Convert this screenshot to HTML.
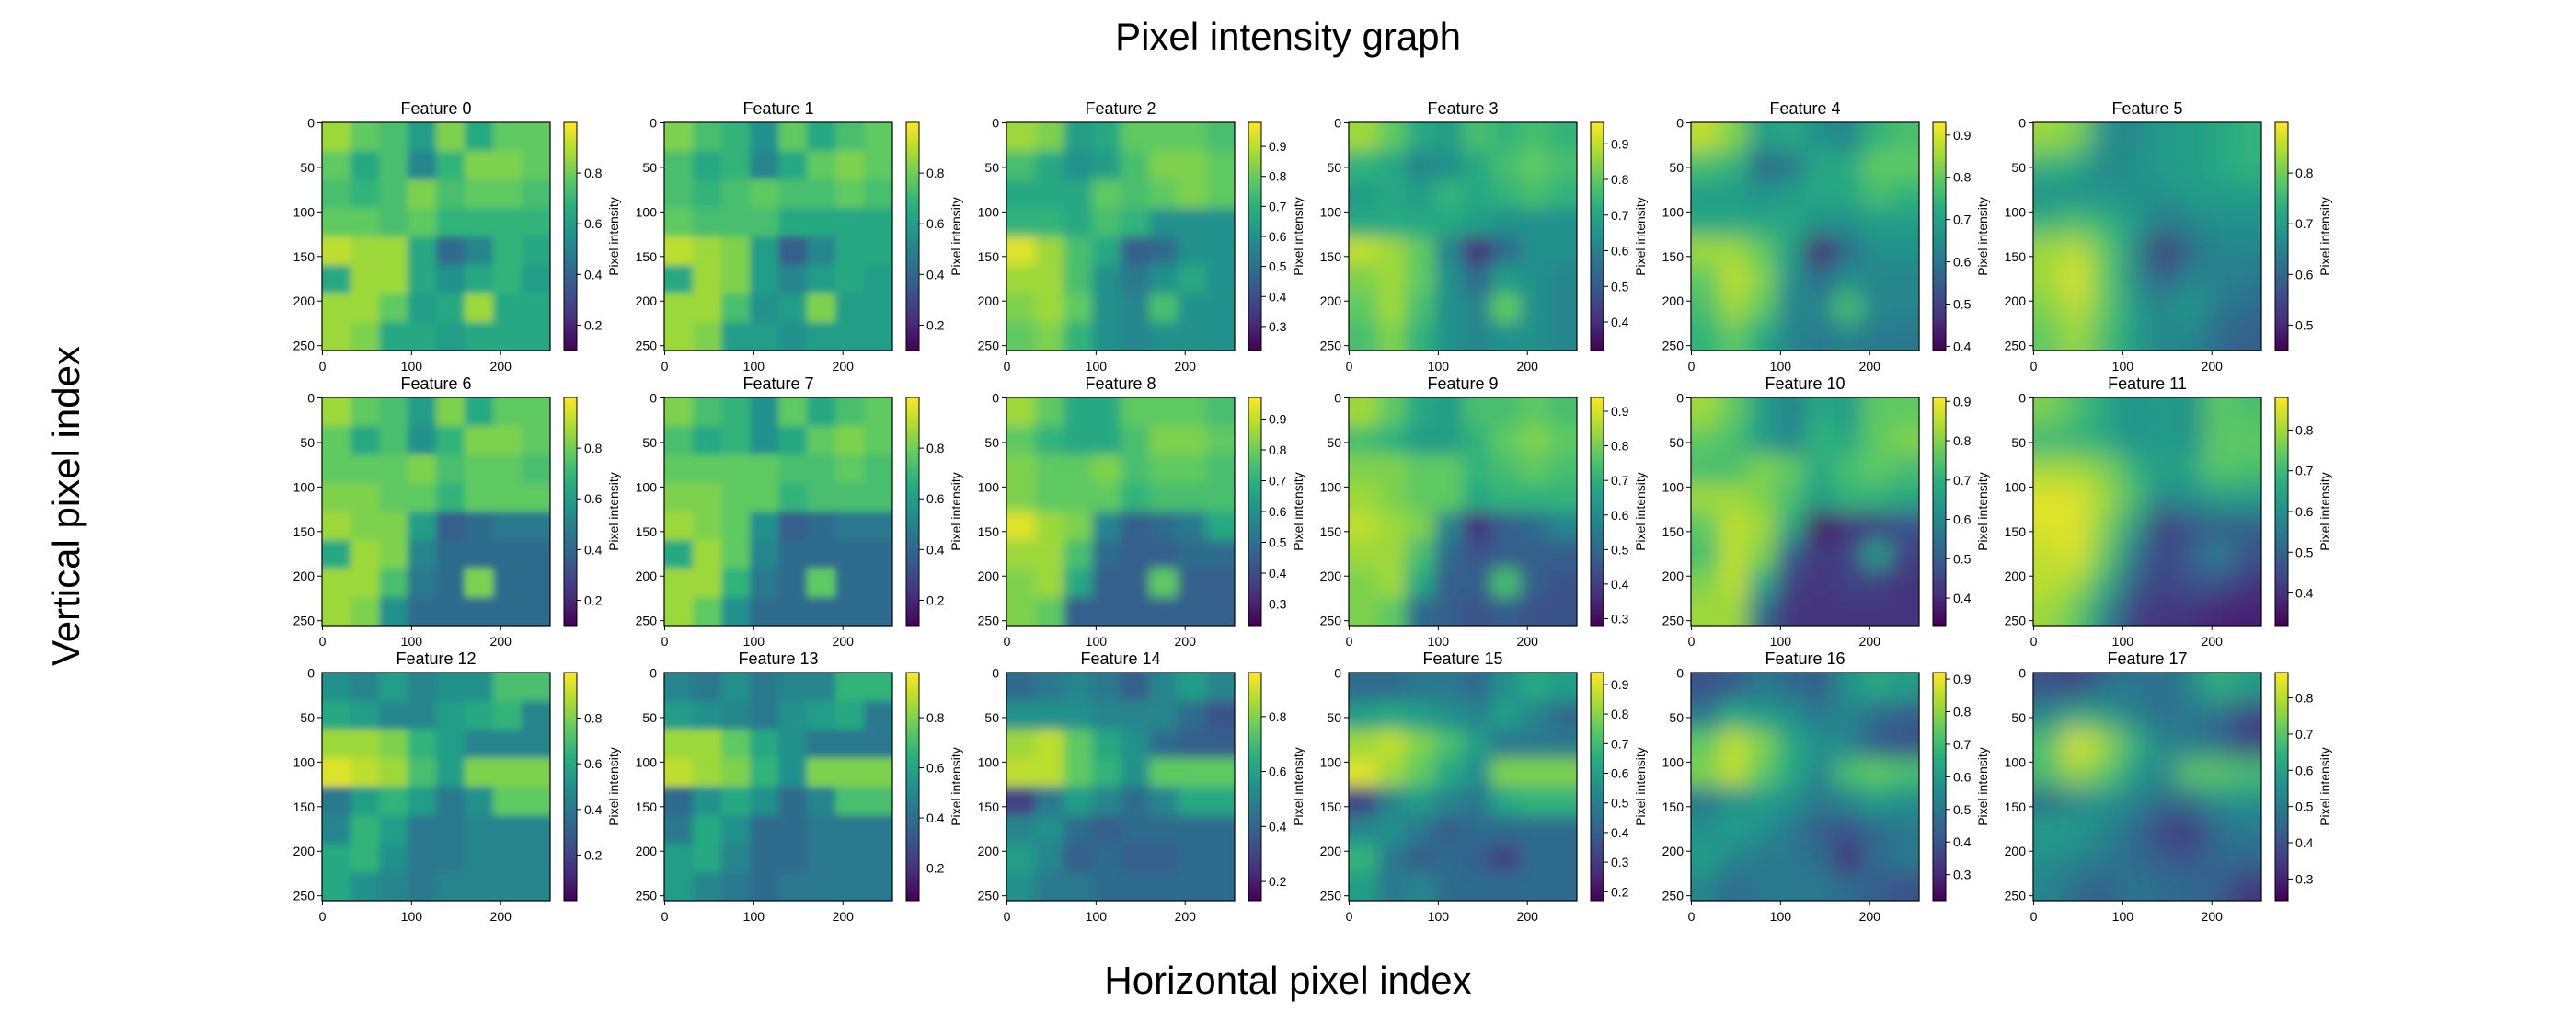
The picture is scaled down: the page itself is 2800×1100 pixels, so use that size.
<!DOCTYPE html>
<html><head><meta charset="utf-8"><style>
html,body{margin:0;padding:0;background:#fff;}
svg{display:block;font-family:"Liberation Sans","DejaVu Sans",sans-serif;}
</style></head><body>
<svg id="fig" width="2800" height="1100" viewBox="0 0 2800 1100" xmlns="http://www.w3.org/2000/svg">
<defs>
<linearGradient id="viridisGrad" x1="0" y1="1" x2="0" y2="0">
<stop offset="0" stop-color="#440154"/><stop offset="0.125" stop-color="#472d7b"/><stop offset="0.25" stop-color="#3b528b"/><stop offset="0.375" stop-color="#2c728e"/><stop offset="0.5" stop-color="#21918c"/><stop offset="0.625" stop-color="#28ae80"/><stop offset="0.75" stop-color="#5ec962"/><stop offset="0.875" stop-color="#addc30"/><stop offset="1" stop-color="#fde725"/>
</linearGradient>
</defs>
<text x="1400" y="54" text-anchor="middle" font-size="42">Pixel intensity graph</text>
<text x="1400" y="1080" text-anchor="middle" font-size="42">Horizontal pixel index</text>
<text x="0" y="0" transform="translate(86,550) rotate(-90)" text-anchor="middle" font-size="42">Vertical pixel index</text>
<g id="panels"></g>
</svg>
<script>
const featureNames = ["Feature 0","Feature 1","Feature 2","Feature 3","Feature 4","Feature 5","Feature 6","Feature 7","Feature 8","Feature 9","Feature 10","Feature 11","Feature 12","Feature 13","Feature 14","Feature 15","Feature 16","Feature 17"];
const colorbarMin = [0.10,0.10,0.22,0.32,0.39,0.45,0.10,0.10,0.23,0.28,0.33,0.32,0.00,0.07,0.13,0.17,0.22,0.24];
const colorbarMax = [1.00,1.00,0.98,0.96,0.93,0.90,1.00,1.00,0.97,0.94,0.91,0.88,1.00,0.98,0.96,0.94,0.92,0.87];
const colorbarTicks = [
[0.2,0.4,0.6,0.8],[0.2,0.4,0.6,0.8],[0.3,0.4,0.5,0.6,0.7,0.8,0.9],[0.4,0.5,0.6,0.7,0.8,0.9],[0.4,0.5,0.6,0.7,0.8,0.9],[0.5,0.6,0.7,0.8],
[0.2,0.4,0.6,0.8],[0.2,0.4,0.6,0.8],[0.3,0.4,0.5,0.6,0.7,0.8,0.9],[0.3,0.4,0.5,0.6,0.7,0.8,0.9],[0.4,0.5,0.6,0.7,0.8,0.9],[0.4,0.5,0.6,0.7,0.8],
[0.2,0.4,0.6,0.8],[0.2,0.4,0.6,0.8],[0.2,0.4,0.6,0.8],[0.2,0.3,0.4,0.5,0.6,0.7,0.8,0.9],[0.3,0.4,0.5,0.6,0.7,0.8,0.9],[0.3,0.4,0.5,0.6,0.7,0.8]];
const xTicks = [0,100,200];
const yTicks = [0,50,100,150,200,250];
const smoothing = [4,4,6,9,12,15,4,4,6,9,12,15,4,4,6,9,12,15];
// relative intensities (0 = colorbar min, 1 = colorbar max), 8x8 coarse grid per feature
const f0 = [[.85,.75,.7,.55,.8,.6,.75,.75],[.75,.6,.7,.45,.65,.8,.8,.75],[.7,.65,.7,.8,.7,.75,.75,.7],[.75,.75,.7,.75,.65,.65,.65,.65],[.9,.85,.85,.6,.35,.45,.65,.6],[.6,.85,.85,.6,.5,.6,.65,.55],[.85,.85,.75,.55,.6,.85,.6,.6],[.85,.8,.6,.6,.55,.6,.6,.6]];
const f1 = [[.8,.7,.65,.5,.75,.6,.7,.75],[.7,.6,.65,.45,.6,.75,.8,.75],[.7,.65,.7,.75,.7,.7,.75,.7],[.75,.7,.7,.7,.6,.6,.6,.6],[.9,.85,.8,.55,.3,.45,.6,.6],[.6,.85,.8,.55,.45,.55,.6,.55],[.85,.85,.7,.5,.55,.8,.55,.55],[.85,.8,.55,.55,.5,.55,.55,.55]];
const f2 = [[.85,.8,.55,.6,.75,.75,.75,.7],[.7,.6,.5,.55,.7,.8,.8,.75],[.6,.6,.6,.75,.7,.75,.8,.75],[.65,.65,.6,.7,.65,.5,.5,.5],[.95,.85,.7,.6,.3,.35,.5,.5],[.85,.85,.7,.5,.4,.5,.6,.5],[.8,.85,.75,.5,.45,.7,.5,.5],[.75,.8,.65,.5,.45,.5,.5,.5]];
const f3 = [[.85,.75,.6,.55,.7,.65,.7,.65],[.65,.6,.45,.5,.6,.7,.75,.7],[.55,.6,.55,.65,.6,.65,.7,.65],[.6,.6,.6,.6,.55,.5,.5,.5],[.9,.85,.75,.45,.15,.35,.5,.5],[.8,.85,.75,.5,.35,.55,.5,.45],[.75,.85,.7,.5,.45,.75,.5,.45],[.7,.8,.65,.5,.45,.5,.5,.45]];
const f4 = [[.9,.8,.55,.6,.5,.45,.65,.7],[.7,.65,.35,.4,.6,.6,.75,.75],[.55,.55,.5,.55,.6,.6,.7,.65],[.6,.6,.6,.6,.5,.5,.55,.55],[.85,.85,.75,.55,.1,.35,.5,.5],[.75,.9,.8,.5,.35,.5,.45,.45],[.7,.85,.75,.45,.45,.7,.45,.45],[.65,.75,.6,.45,.4,.45,.4,.4]];
const f5 = [[.85,.8,.5,.45,.55,.55,.6,.65],[.65,.6,.45,.5,.55,.55,.6,.65],[.5,.5,.5,.5,.5,.55,.55,.55],[.65,.7,.65,.55,.4,.45,.5,.5],[.85,.9,.75,.5,.1,.35,.45,.45],[.85,.95,.75,.5,.3,.45,.45,.4],[.8,.9,.75,.55,.45,.55,.4,.35],[.75,.85,.7,.55,.45,.45,.35,.3]];
const f6 = [[.85,.75,.7,.55,.8,.6,.75,.75],[.75,.6,.7,.5,.65,.8,.8,.75],[.75,.75,.75,.8,.7,.75,.75,.7],[.8,.8,.75,.75,.65,.75,.75,.75],[.85,.8,.8,.55,.3,.35,.4,.4],[.6,.85,.8,.45,.35,.35,.35,.35],[.85,.85,.7,.4,.35,.8,.35,.35],[.85,.8,.5,.35,.35,.35,.35,.35]];
const f7 = [[.8,.7,.65,.5,.75,.6,.7,.75],[.7,.6,.65,.5,.6,.75,.8,.75],[.75,.75,.75,.75,.7,.7,.75,.7],[.8,.8,.75,.75,.65,.7,.7,.7],[.85,.8,.75,.5,.3,.35,.4,.4],[.6,.85,.75,.45,.35,.35,.35,.35],[.85,.85,.65,.4,.35,.75,.35,.35],[.85,.75,.5,.35,.35,.35,.35,.35]];
const f8 = [[.85,.75,.6,.6,.75,.75,.75,.7],[.75,.65,.6,.6,.7,.8,.8,.75],[.8,.75,.75,.8,.7,.75,.75,.7],[.8,.75,.75,.75,.65,.7,.7,.7],[.95,.85,.8,.45,.3,.35,.4,.6],[.85,.85,.7,.35,.3,.3,.35,.35],[.8,.85,.6,.3,.3,.75,.3,.3],[.8,.75,.3,.3,.3,.3,.3,.3]];
const f9 = [[.85,.75,.6,.55,.7,.7,.75,.7],[.7,.65,.55,.55,.65,.75,.8,.75],[.8,.8,.75,.75,.65,.7,.75,.7],[.85,.8,.75,.75,.6,.65,.65,.65],[.9,.85,.8,.45,.15,.3,.35,.45],[.85,.85,.7,.35,.25,.3,.3,.3],[.8,.85,.6,.3,.3,.7,.3,.25],[.8,.75,.35,.3,.25,.3,.25,.25]];
const f10 = [[.85,.75,.55,.45,.6,.55,.75,.75],[.75,.7,.55,.45,.65,.6,.75,.8],[.7,.7,.8,.75,.6,.7,.75,.7],[.85,.85,.8,.7,.55,.65,.65,.6],[.75,.9,.85,.6,.05,.15,.2,.25],[.7,.9,.8,.3,.15,.2,.55,.2],[.8,.9,.6,.2,.15,.2,.2,.15],[.85,.85,.35,.15,.15,.15,.15,.15]];
const f11 = [[.8,.7,.6,.5,.55,.5,.75,.7],[.65,.65,.6,.5,.55,.5,.75,.75],[.85,.85,.8,.65,.55,.6,.75,.7],[.95,.95,.85,.7,.45,.5,.55,.55],[.95,.95,.8,.55,.15,.25,.3,.3],[.9,.95,.75,.4,.2,.3,.45,.25],[.9,.85,.65,.3,.2,.25,.25,.15],[.85,.75,.45,.2,.15,.15,.1,.1]];
const f12 = [[.5,.45,.55,.45,.5,.5,.7,.7],[.6,.55,.45,.45,.55,.6,.65,.45],[.85,.85,.8,.65,.55,.45,.45,.45],[.95,.9,.85,.7,.55,.8,.8,.8],[.4,.55,.65,.55,.4,.5,.75,.75],[.45,.65,.55,.4,.4,.45,.45,.45],[.6,.65,.5,.4,.4,.45,.45,.45],[.6,.5,.45,.4,.45,.45,.45,.45]];
const f13 = [[.45,.4,.5,.4,.45,.45,.65,.65],[.55,.5,.45,.4,.5,.55,.6,.4],[.85,.85,.75,.6,.5,.4,.4,.4],[.9,.85,.8,.65,.5,.8,.8,.8],[.35,.5,.6,.5,.35,.45,.7,.7],[.4,.6,.5,.35,.35,.4,.4,.4],[.55,.6,.45,.35,.35,.4,.4,.4],[.55,.45,.4,.35,.4,.4,.4,.4]];
const f14 = [[.35,.4,.45,.4,.3,.45,.55,.45],[.5,.5,.5,.45,.45,.45,.35,.25],[.85,.9,.75,.6,.5,.35,.3,.3],[.9,.9,.75,.65,.5,.75,.75,.75],[.2,.4,.55,.45,.35,.45,.6,.6],[.45,.5,.35,.3,.35,.35,.35,.35],[.55,.45,.3,.35,.3,.3,.35,.35],[.5,.4,.4,.35,.35,.35,.35,.35]];
const f15 = [[.35,.35,.4,.4,.35,.5,.6,.55],[.55,.6,.55,.5,.45,.55,.45,.35],[.85,.9,.8,.7,.55,.4,.4,.4],[.95,.85,.75,.6,.5,.8,.8,.8],[.2,.45,.55,.45,.4,.6,.65,.65],[.45,.5,.4,.3,.35,.35,.35,.35],[.65,.4,.3,.35,.3,.2,.35,.35],[.55,.4,.45,.35,.35,.35,.35,.35]];
const f16 = [[.25,.3,.4,.35,.3,.5,.6,.55],[.4,.6,.55,.5,.4,.45,.35,.3],[.75,.9,.8,.6,.5,.45,.3,.25],[.8,.9,.75,.6,.45,.7,.75,.7],[.4,.5,.55,.5,.4,.45,.55,.5],[.5,.55,.5,.4,.3,.25,.35,.4],[.55,.45,.4,.4,.35,.15,.35,.4],[.45,.35,.4,.4,.4,.35,.3,.25]];
const f17 = [[.25,.2,.35,.4,.35,.45,.65,.55],[.45,.6,.55,.45,.35,.4,.35,.2],[.7,.95,.85,.65,.45,.4,.35,.2],[.7,.85,.75,.55,.45,.75,.75,.7],[.35,.45,.5,.45,.35,.35,.5,.5],[.55,.55,.45,.35,.2,.15,.35,.4],[.5,.45,.4,.35,.3,.25,.35,.35],[.45,.35,.3,.4,.35,.35,.3,.15]];
const featureGrids = [f0,f1,f2,f3,f4,f5,f6,f7,f8,f9,f10,f11,f12,f13,f14,f15,f16,f17];

const NS = "http://www.w3.org/2000/svg";
const viridisStops = [[68,1,84],[71,45,123],[59,82,139],[44,114,142],[33,145,140],[40,174,128],[94,201,98],[173,220,48],[253,231,37]];
function viridis(t){t=Math.max(0,Math.min(1,t));const p=t*8;const i=Math.min(7,Math.floor(p));const f=p-i;const a=viridisStops[i],b=viridisStops[i+1];
return "rgb("+Math.round(a[0]+(b[0]-a[0])*f)+","+Math.round(a[1]+(b[1]-a[1])*f)+","+Math.round(a[2]+(b[2]-a[2])*f)+")";}
function mk(tag,attrs,parent){const e=document.createElementNS(NS,tag);for(const k in attrs)e.setAttribute(k,attrs[k]);if(parent)parent.appendChild(e);return e;}
const SIZE=248, X0=350, Y0=133, DX=372, DY=299, N=256;
const root=document.getElementById("panels");
const defs=document.querySelector("defs");
featureGrids.forEach((grid,i)=>{
  const col=i%6,row=Math.floor(i/6);
  const x0=X0+DX*col,y0=Y0+DY*row;
  const sx=v=>x0+(v+0.5)/N*SIZE;
  const sy=v=>y0+(v+0.5)/N*SIZE;
  const g=mk("g",{},root);
  
  
  const pad=smoothing[i]*4;
  const flt=mk("filter",{id:"blur"+i,filterUnits:"userSpaceOnUse",x:x0-pad,y:y0-pad,width:SIZE+2*pad,height:SIZE+2*pad},defs);
  mk("feGaussianBlur",{stdDeviation:smoothing[i]},flt);
  const cp=mk("clipPath",{id:"clip"+i},defs);
  mk("rect",{x:x0,y:y0,width:SIZE,height:SIZE},cp);
  const cg=mk("g",{"clip-path":"url(#clip"+i+")"},g);
  const hg=mk("g",{filter:"url(#blur"+i+")"},cg);
  
  
  const nr=grid.length,nc=grid[0].length,cw=SIZE/nc,ch=SIZE/nr;
  grid.forEach((r,ri)=>r.forEach((v,ci)=>{
    let x=x0+ci*cw,y=y0+ri*ch,w=cw+0.6,h=ch+0.6;
    if(ci===0){x-=pad;w+=pad;} if(ci===nc-1){w+=pad;}
    if(ri===0){y-=pad;h+=pad;} if(ri===nr-1){h+=pad;}
    const c=mk("rect",{x:x,y:y,width:w,height:h,fill:viridis(v)},hg);
    
    
  }));
  mk("rect",{x:x0,y:y0,width:SIZE,height:SIZE,fill:"none",stroke:"#000","stroke-width":1.2},g);
  const t=mk("text",{x:x0+SIZE/2,y:y0-9,"text-anchor":"middle","font-size":18},g);
  t.textContent=featureNames[i];
  
  
  xTicks.forEach(v=>{const x=sx(v);mk("line",{x1:x,x2:x,y1:y0+SIZE,y2:y0+SIZE+5,stroke:"#000"},g);
    const l=mk("text",{x:x,y:y0+SIZE+22,"text-anchor":"middle","font-size":14},g);l.textContent=v;
    
    });
  yTicks.forEach(v=>{const y=sy(v);mk("line",{x1:x0-5,x2:x0,y1:y,y2:y,stroke:"#000"},g);
    const l=mk("text",{x:x0-8,y:y+5,"text-anchor":"end","font-size":14},g);l.textContent=v;
    
    });
  const cx=x0+263,cw2=14;
  const cb=mk("rect",{x:cx,y:y0,width:cw2,height:SIZE,fill:"url(#viridisGrad)",stroke:"#000","stroke-width":1},g);
  
  
  const vmin=colorbarMin[i],vmax=colorbarMax[i];
  colorbarTicks[i].forEach(v=>{const y=y0+(vmax-v)/(vmax-vmin)*SIZE;
    mk("line",{x1:cx+cw2,x2:cx+cw2+5,y1:y,y2:y,stroke:"#000"},g);
    const l=mk("text",{x:cx+cw2+8,y:y+5,"font-size":14},g);l.textContent=v.toFixed(1);
    
    });
  const lab=mk("text",{x:0,y:0,transform:"translate("+(cx+59)+","+(y0+SIZE/2)+") rotate(-90)","text-anchor":"middle","font-size":14},g);
  lab.textContent="Pixel intensity";
  
  
});
</script>
</body></html>
